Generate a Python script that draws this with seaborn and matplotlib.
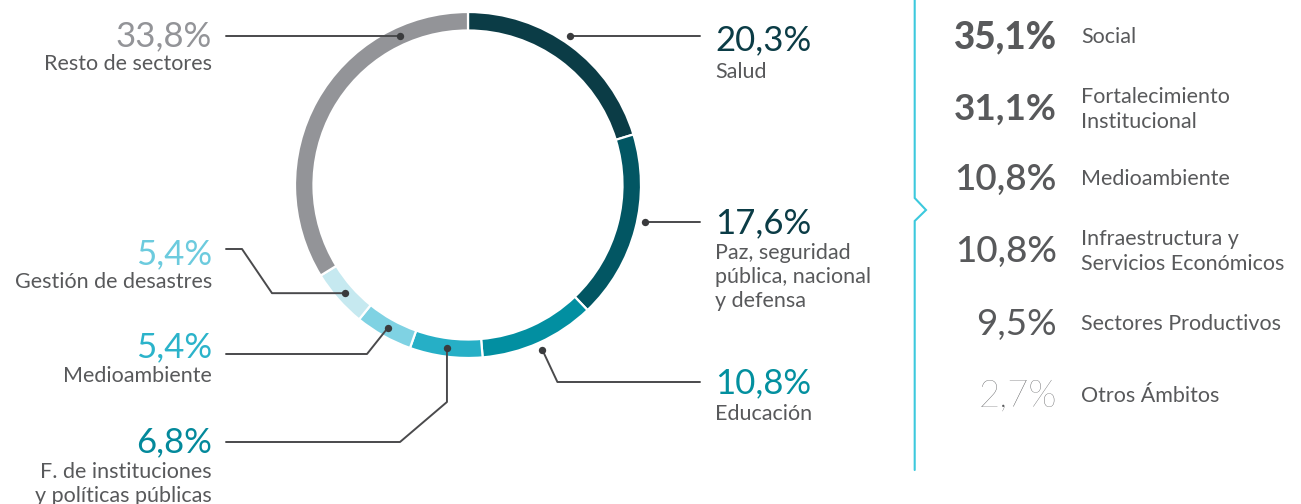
import numpy as np
import matplotlib
matplotlib.use("Agg")
import matplotlib.pyplot as plt
import seaborn as sns

# Sector shares of the donut (clockwise from the top)
sectores = ["Salud",
            "Paz, seguridad\npública, nacional\ny defensa",
            "Educación",
            "F. de instituciones\ny políticas públicas",
            "Medioambiente",
            "Gestión de desastres",
            "Resto de sectores"]
porcentajes = [20.3, 17.6, 10.8, 6.8, 5.4, 5.4, 33.8]
colores_sector = ["#0b3c46", "#025663", "#028fa1", "#26afc6",
                  "#7fd2e3", "#c6e9f0", "#939498"]
colores_valor = ["#0b3c46", "#0b3c46", "#03909f", "#03899b",
                 "#2bb3ca", "#6ccbde", "#939498"]

# Breakdown by field of action (right column)
ambitos = ["Social", "Fortalecimiento\nInstitucional", "Medioambiente",
           "Infraestructura y\nServicios Económicos", "Sectores Productivos",
           "Otros Ámbitos"]
ambitos_pct = [35.1, 31.1, 10.8, 10.8, 9.5, 2.7]
ambitos_peso = ["black", "bold", "semibold", "medium", "normal", "light"]

sns.set_theme(style="white")
plt.rcParams["font.family"] = ["Lato", "DejaVu Sans"]

GRIS_TXT = "#58595b"
GRIS_LINEA = "#4a4a4c"
GRIS_PUNTO = "#3a3b3d"
CIAN = "#3cc9dd"


def fmt(v):
    return f"{v:.1f}".replace(".", ",") + "%"


W, H = 1301, 504
fig = plt.figure(figsize=(W / 100, H / 100), dpi=100)
ax = fig.add_axes([0, 0, 1, 1])

# Donut: axes use pixel units with y growing downward, so a counter-clockwise
# sweep in data space reads clockwise on screen, starting from the top.
cx, cy, R, ancho = 468, 185, 173, 18.5
palette = sns.color_palette(colores_sector)
wedges, _ = ax.pie(porcentajes, colors=palette, startangle=-90,
                   counterclock=True, center=(cx, cy), radius=R, frame=True,
                   wedgeprops=dict(width=ancho, edgecolor="white", linewidth=1.6))
ax.set_xlim(0, W)
ax.set_ylim(H, 0)
ax.set_aspect("equal")
ax.axis("off")


def punto_medio(w, r):
    a = np.deg2rad((w.theta1 + w.theta2) / 2)
    return cx + r * np.cos(a), cy + r * np.sin(a)


def punto_en_y(y, r, lado):
    dx = np.sqrt(r ** 2 - (y - cy) ** 2)
    return cx + lado * dx, y


r_ext = 181   # dots just outside the ring (right side)
r_med = 164   # dots on the ring (left side)

# Leader layout per sector: dot, polyline, text anchor and baselines
leaders = []
# Salud
p = punto_en_y(35.7, r_ext, +1)
leaders.append(dict(path=[p, (700, 35.7)], tx=715, ha="left", base=50, lab0=78))
# Paz
p = punto_en_y(222, r_ext, +1)
leaders.append(dict(path=[p, (700, 222)], tx=715, ha="left", base=233, lab0=259))
# Educación
p = punto_medio(wedges[2], r_ext)
leaders.append(dict(path=[p, (p[0] + 15, 382), (700, 382)], tx=715, ha="left",
                    base=393, lab0=420))
# F. de instituciones
p = punto_medio(wedges[3], r_med)
leaders.append(dict(path=[p, (p[0], 402), (400, 442), (226, 442)], tx=212,
                    ha="right", base=452, lab0=478))
# Medioambiente
p = punto_medio(wedges[4], r_med)
leaders.append(dict(path=[p, (367, 354), (226, 354)], tx=212, ha="right",
                    base=357, lab0=382))
# Gestión de desastres
p = punto_medio(wedges[5], r_med)
leaders.append(dict(path=[p, (272, p[1]), (242, 249), (226, 249)], tx=212,
                    ha="right", base=264, lab0=288))
# Resto de sectores
p = punto_en_y(35.7, r_med, -1)
leaders.append(dict(path=[p, (226, 35.7)], tx=212, ha="right", base=46.5, lab0=70))

for nombre, valor, col, ld in zip(sectores, porcentajes, colores_valor, leaders):
    xs, ys = zip(*ld["path"])
    ax.plot(xs, ys, color=GRIS_LINEA, lw=1.4, solid_joinstyle="round",
            solid_capstyle="round", zorder=3)
    ax.scatter([xs[0]], [ys[0]], s=28, color=GRIS_PUNTO, zorder=4, linewidths=0)
    ax.text(ld["tx"], ld["base"], fmt(valor), ha=ld["ha"], va="baseline",
            fontsize=25, color=col)
    for i, linea in enumerate(nombre.split("\n")):
        ax.text(ld["tx"], ld["lab0"] + i * 24, linea, ha=ld["ha"],
                va="baseline", fontsize=15.5, color=GRIS_TXT)

# Cyan divider with a small chevron
ax.plot([914.7, 914.7, 926, 914.7, 914.7], [0, 198, 210, 221, 470],
        color=CIAN, lw=1.5, solid_joinstyle="miter")

# Right column
bases = [48, 120, 190, 262, 335, 407]
lab_bases = [43, 103, 185, 245, 330, 402]
for nombre, valor, peso, b, lb in zip(ambitos, ambitos_pct, ambitos_peso,
                                       bases, lab_bases):
    ax.text(1057, b, fmt(valor), ha="right", va="baseline", fontsize=26.5,
            fontweight=peso, color=GRIS_TXT)
    for i, linea in enumerate(nombre.split("\n")):
        ax.text(1081, lb + i * 25, linea, ha="left", va="baseline",
                fontsize=15.5, color=GRIS_TXT)

fig.savefig("out.png", dpi=100, facecolor="white")
